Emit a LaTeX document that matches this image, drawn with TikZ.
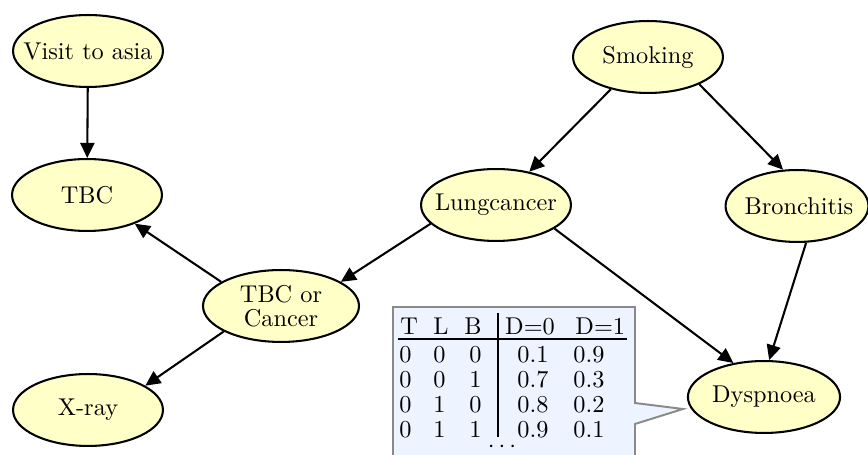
\documentclass[tikz,border=0pt]{standalone}
\usetikzlibrary{arrows.meta,shapes.geometric}
\definecolor{nodefill}{HTML}{FFFFC8}
\definecolor{callfill}{HTML}{EEF4FF}
\definecolor{callline}{HTML}{8A8A8A}
\begin{document}
\begin{tikzpicture}[x=0.4115pt,y=-0.4115pt,
  ell/.style={ellipse,draw=black,line width=0.85pt,fill=nodefill,
    minimum width=61.7pt,minimum height=29.6pt,inner sep=0pt},
  lbl/.style={align=center,font=\fontsize{10}{10}\selectfont,inner sep=0pt},
  edge/.style={line width=0.85pt,-{Triangle[length=6.2pt,width=5.8pt]}},
  cell/.style={inner sep=0pt,font=\fontsize{10}{10}\selectfont},
  rule/.style={line width=0.8pt}]
\useasboundingbox (0,0) rectangle (868,455);
\clip (0,0) rectangle (868,455);

% nodes
\node[ell] (asia) at (88,51) {};
\node[lbl] (asiaT) at (asia) {Visit to asia};
\node[ell] (tbc) at (87,195) {};
\node[lbl] (tbcT) at (tbc) {TBC};
\node[ell] (smoke) at (648,57) {};
\node[lbl] (smokeT) at (smoke) {Smoking};
\node[ell] (lung) at (496,205) {};
\node[lbl] (lungT) at (lung) {Lungcancer};
\node[ell,minimum width=58.8pt] (bron) at (797,206) {};
\node[lbl] (bronT) at (799,206) {Bronchitis};
\node[ell,minimum width=64.2pt] (toc) at (281,306) {};
\node[lbl] (tocT) at (toc) {TBC or\\Cancer};
\node[ell] (xray) at (88,410) {};
\node[lbl] (xrayT) at (xray) {X-ray};
\node[ell,minimum width=62.6pt] (dysp) at (764,397) {};
\node[lbl] (dyspT) at (dysp) {Dyspnoea};

% edges
\draw[edge] (asia) -- (tbc);
\draw[edge] (smoke.221.7) -- (lung.45.8);
\draw[edge] (smoke.-28.3) -- (bron.111);
\draw[edge] (lung.196.9) -- (toc.22.8);
\draw[edge] (lung.-22.3) -- (dysp.132.4);
\draw[edge] (bron.-76.3) -- (dysp.82.3);
\draw[edge] (toc.158.7) -- (tbc.-31);
\draw[edge] (toc.204) -- (xray.23.1);

% callout with table
\filldraw[fill=callfill,draw=callline,line width=0.8pt,line join=miter]
  (393,307) -- (635,307) -- (635,403) -- (683,409) -- (635,424)
  -- (635,470) -- (393,470) -- cycle;

\node[cell,anchor=base west] (hT) at (400,335) {T};
\node[cell,anchor=base west] (hL) at (433,335) {L};
\node[cell,anchor=base east] (hB) at (482,335) {B};
\node[cell,anchor=base] (hD0) at (530,335) {D=0};
\node[cell,anchor=base west] (hD1) at (575,335) {D=1};
\draw[rule] (398,339) -- (627,339);
\draw[rule] (498,313) -- (498,437);

\foreach \a/\b/\c/\d/\e [count=\i] in {0/0/0/0.1/0.9, 0/0/1/0.7/0.3, 0/1/0/0.8/0.2, 0/1/1/0.9/0.1} {
  \pgfmathsetmacro\yy{363+24.7*(\i-1)}
  \node[cell,anchor=base west] (r\i-a) at (399,\yy) {\a};
  \node[cell,anchor=base west] (r\i-b) at (433,\yy) {\b};
  \node[cell,anchor=base east] (r\i-c) at (482,\yy) {\c};
  \node[cell,anchor=base] (r\i-d) at (533,\yy) {\d};
  \node[cell,anchor=base west] (r\i-e) at (573,\yy) {\e};
}
\node[cell,anchor=base] (dots) at (502,453) {$\cdots$};
\end{tikzpicture}
\end{document}
